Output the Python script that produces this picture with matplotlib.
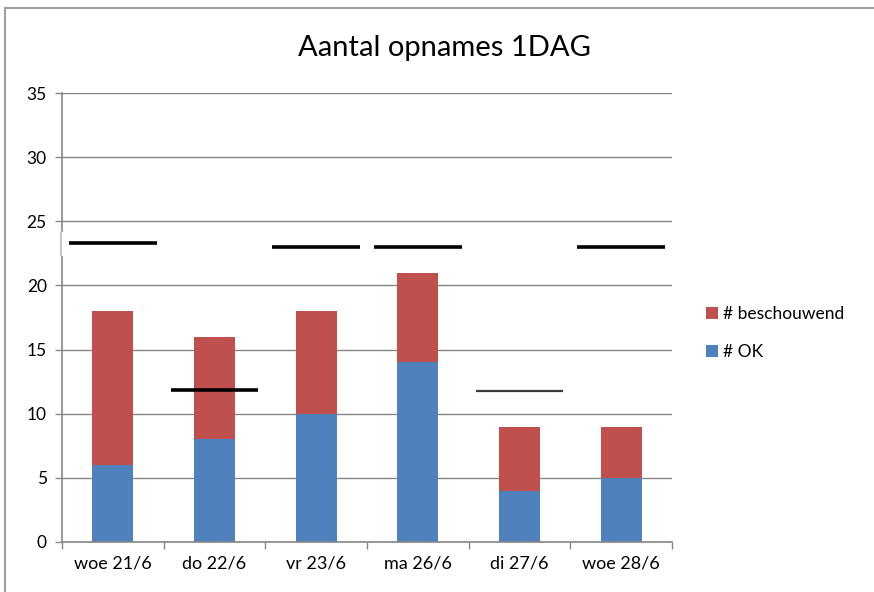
import numpy as np
import matplotlib.pyplot as plt
import matplotlib.patheffects as pe
from matplotlib.patches import Rectangle
from matplotlib.lines import Line2D

plt.rcParams["font.family"] = ["Lato", "DejaVu Sans"]

days = ["woe 21/6", "do 22/6", "vr 23/6", "ma 26/6", "di 27/6", "woe 28/6"]
ok = [6, 8, 10, 14, 4, 5]
beschouwend = [12, 8, 8, 7, 5, 4]
capaciteit = [23.3, 11.85, 23.0, 23.0, 11.8, 23.0]

blue = "#4F81BD"
red = "#C0504D"
grid = "#868686"

fig = plt.figure(figsize=(8.74, 5.92), dpi=100)
ax = fig.add_axes([62/874, 50/592, 610/874, 449/592])

x = np.arange(len(days))
ax.bar(x, ok, width=0.4, color=blue, label="# OK", zorder=2)
ax.bar(x, beschouwend, width=0.4, bottom=ok, color=red,
       label="# beschouwend", zorder=2)

# capacity marks per day
shadow = [pe.SimplePatchShadow(offset=(1, -1.5), alpha=0.25), pe.Normal()]
for i, c in enumerate(capaciteit):
    thin = i == 4
    ax.plot([i - 0.43, i + 0.43], [c, c],
            color="#3a3a3a" if thin else "black",
            lw=1.6 if thin else 2.6, solid_capstyle="butt", zorder=4,
            path_effects=shadow)

ax.set_xlim(-0.5, len(days) - 0.5)
ax.set_ylim(0, 35)
ax.set_yticks(np.arange(0, 36, 5))
ax.set_xticks(x)
ax.set_xticklabels(days)
ax.set_xticks(np.arange(-0.5, len(days)), minor=True)
ax.tick_params(axis="x", which="major", length=0, pad=10, labelsize=13)
ax.tick_params(axis="x", which="minor", length=5, color=grid, width=1)
ax.tick_params(axis="y", length=5, color=grid, width=1, pad=6, labelsize=12.5)
ax.yaxis.grid(True, color=grid, lw=1, zorder=0)

for s in ["top", "right"]:
    ax.spines[s].set_visible(False)
for s in ["left", "bottom"]:
    ax.spines[s].set_color(grid)
    ax.spines[s].set_linewidth(1.2)

# white box behind the first capacity mark, cutting the y axis
ax.add_patch(Rectangle((-0.52, 22.3), 0.06, 1.9, transform=ax.transData,
                       facecolor="white", edgecolor="none", zorder=5,
                       clip_on=False))
ax.plot([-0.51, -0.51], [22.4, 24.2], color="#c8c8c8", lw=1.6, zorder=6,
        clip_on=False)

fig.text(444/874, 1 - 48/592, "Aantal opnames 1DAG", fontsize=21,
         ha="center", va="center")

handles, labels = ax.get_legend_handles_labels()
fig.legend(handles[::-1], labels[::-1], loc="upper left",
           bbox_to_anchor=(0.79, 0.51), frameon=False, fontsize=12.5,
           handlelength=0.7, handleheight=0.7, handletextpad=0.3,
           labelspacing=1.3)

# outer chart border
fig.add_artist(Line2D([5/874, 1], [1 - 8/592, 1 - 8/592],
                      transform=fig.transFigure, color="#a0a0a0", lw=1.5))
fig.add_artist(Line2D([5/874, 5/874], [0, 1 - 8/592],
                      transform=fig.transFigure, color="#a0a0a0", lw=1.5))

fig.savefig("out.png", dpi=100)
